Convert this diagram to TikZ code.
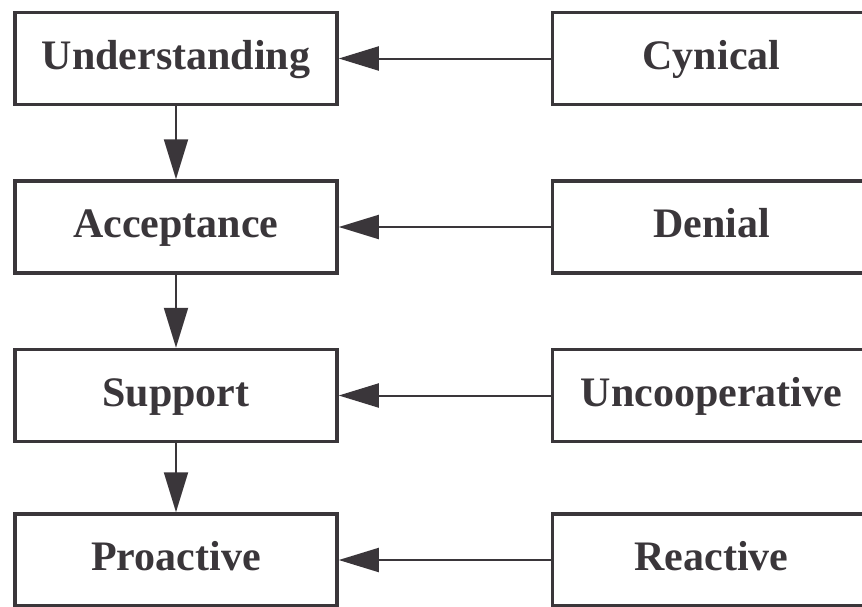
\documentclass[tikz,border=0pt]{standalone}
\usepackage{fontspec}
\setmainfont{Liberation Serif}
\usepackage{xcolor}
\usetikzlibrary{matrix,arrows.meta}
\definecolor{ink}{RGB}{58,54,58}

\begin{document}
\begin{tikzpicture}[x=1pt,y=1pt,
		link/.style={ink, line width=2pt, -{Triangle[length=40pt,width=24pt]}}]
		\clip (0,0) rectangle (862,-606);
		\matrix (M) [matrix of nodes, anchor=M-1-1.center, row sep=73pt, column sep=212pt,
			nodes={draw=ink, line width=3.5pt, text=ink, inner sep=0pt, minimum height=92pt,
				text height=30pt, text depth=9pt,
				font=\bfseries\fontsize{42}{48}\selectfont},
			column 1/.style={nodes={minimum width=322pt}},
			column 2/.style={nodes={minimum width=318pt}}] at (176,-58.5) {
			Understanding & Cynical \\
			Acceptance & Denial \\
			Support & Uncooperative \\[-4pt]
			Proactive & Reactive \\
		};
		% stages down the left column
		\draw [link] (M-1-1) -- (M-2-1);
		\draw [link] (M-2-1) -- (M-3-1);
		\draw [link] (M-3-1) -- (M-4-1);
		% each attitude feeds its stage
		\draw [link] (M-1-2) -- (M-1-1);
		\draw [link] (M-2-2) -- (M-2-1);
		\draw [link] (M-3-2) -- (M-3-1);
		\draw [link] (M-4-2) -- (M-4-1);
	\end{tikzpicture}
\end{document}
